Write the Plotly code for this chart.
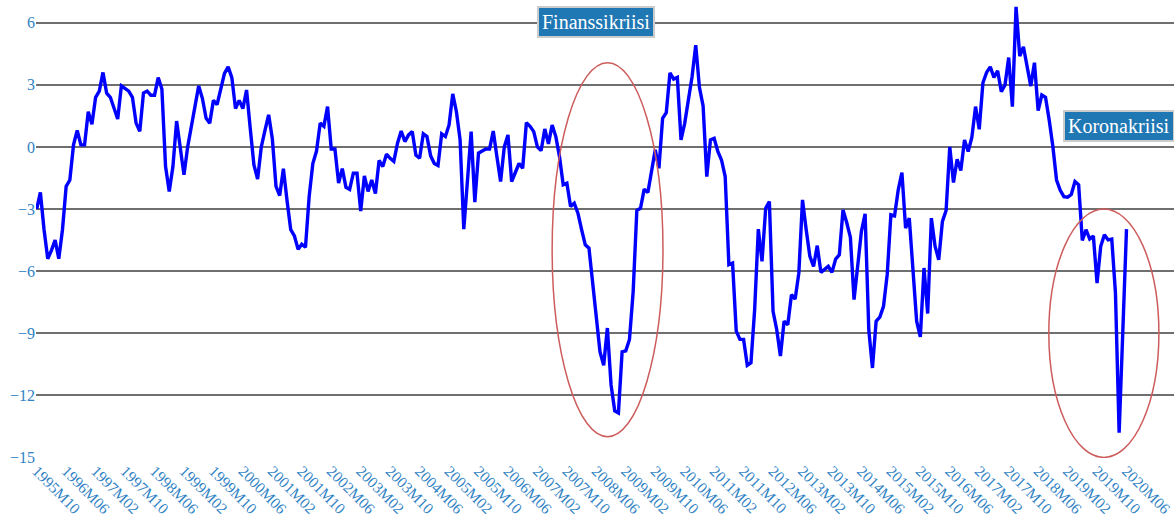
import plotly.graph_objects as go

# Kuluttajien luottamus, kuukausittain 1995M10 - 2020M06 (luettu kuvasta)
start_year, start_month = 1995, 10
values = [
    -3.0, -2.2, -4.0, -5.4, -5.0, -4.5, -5.4, -4.0, -1.9, -1.6,
    0.1, 0.8, 0.1, 0.1, 1.7, 1.1, 2.4, 2.7, 3.6, 2.6,
    2.4, 1.9, 1.35, 2.95, 2.8, 2.7, 2.4, 1.15, 0.75, 2.6,
    2.7, 2.5, 2.5, 3.35, 2.8, -0.95, -2.15, -0.95, 1.25, -0.05,
    -1.35, 0.0, 1.0, 1.95, 2.95, 2.35, 1.4, 1.15, 2.25, 2.05,
    2.75, 3.55, 3.87, 3.35, 1.85, 2.25, 1.85, 2.75, 0.9, -0.87,
    -1.55, 0.0, 0.8, 1.55, 0.4, -1.9, -2.35, -1.05, -2.6, -4.0,
    -4.3, -4.95, -4.7, -4.85, -2.4, -0.8, -0.2, 1.15, 1.0, 1.95,
    -0.1, -0.1, -1.75, -1.05, -1.95, -2.05, -1.27, -1.27, -3.1, -1.4,
    -2.15, -1.6, -2.25, -0.65, -0.95, -0.35, -0.55, -0.7, 0.18, 0.77,
    0.26, 0.58, 0.74, -0.4, -0.55, 0.63, 0.5, -0.43, -0.8, -0.9,
    0.63, 0.5, 1.06, 2.56, 1.7, 0.34, -3.97, -1.43, 0.74, -2.67,
    -0.3, -0.2, -0.1, -0.1, 0.77, -0.47, -1.67, 0.0, 0.58, -1.67,
    -1.2, -0.8, -1.03, 1.17, 1.0, 0.74, 0.0, -0.18, 0.87, 0.15,
    1.06, 0.5, -0.47, -1.83, -1.75, -2.88, -2.72, -3.2, -4.0, -4.73,
    -4.89, -6.5, -8.0, -9.9, -10.55, -8.75, -11.5, -12.75, -12.85, -9.9,
    -9.85, -9.3, -7.0, -3.07, -2.96, -2.04, -2.2, -1.27, -0.14, -1.03,
    1.38, 1.66, 3.58, 3.28, 3.36, 0.34, 1.14, 2.27, 3.39, 4.92,
    2.88, 1.98, -1.43, 0.34, 0.42, -0.22, -0.63, -1.43, -5.69, -5.61,
    -8.9, -9.3, -9.3, -10.55, -10.43, -7.86, -3.97, -5.53, -2.96, -2.64,
    -7.94, -8.83, -10.1, -8.42, -8.59, -7.14, -7.35, -6.1, -2.56, -4.0,
    -5.29, -5.77, -4.77, -6.06, -5.9, -5.77, -6.06, -5.42, -5.21, -3.04,
    -3.65, -4.36, -7.38, -5.61, -4.08, -3.23, -8.83, -10.68, -8.42, -8.22,
    -7.7, -6.17, -3.28, -3.33, -2.07, -1.24, -3.92, -3.44, -5.93, -8.42,
    -9.18, -5.85, -8.05, -3.44, -4.8, -5.45, -3.6, -3.07, 0.0, -1.72,
    -0.6, -1.14, 0.34, -0.22, 0.47, 1.95, 0.85, 3.1, 3.6, 3.87,
    3.36, 3.68, 2.67, 2.99, 4.32, 1.95, 6.77, 4.39, 4.84, 3.95,
    2.94, 4.07, 1.75, 2.51, 2.4, 1.3, 0.02, -1.6, -2.1, -2.4,
    -2.43, -2.3, -1.67, -1.83, -4.52, -4.0, -4.45, -4.3, -6.58, -4.8,
    -4.24, -4.49, -4.45, -7.06, -13.81, -8.9, -3.97,
]

months = []
for k in range(len(values)):
    m = start_month - 1 + k
    months.append(f"{start_year + m // 12}M{m % 12 + 1:02d}")

tick_labels = months[::8]
y_ticks = [6, 3, 0, -3, -6, -9, -12, -15]

FONT = "'Liberation Serif', 'Times New Roman', Times, serif"
TICK_BLUE = "#2f82c4"

fig = go.Figure()
fig.add_trace(
    go.Scatter(
        x=months,
        y=values,
        mode="lines",
        line=dict(color="#0000ff", width=3.4),
        showlegend=False,
    )
)

# Kriisien ympyrät (x kategorian järjestysnumerona)
fig.add_shape(type="circle", xref="x", yref="y", x0=140, x1=170.1, y0=-14.0, y1=4.07,
              line=dict(color="#cd5c5c", width=1.5))
fig.add_shape(type="circle", xref="x", yref="y", x0=274.9, x1=304.8, y0=-15.0, y1=-3.0,
              line=dict(color="#cd5c5c", width=1.5))

box = dict(font=dict(family=FONT, size=20, color="white"), bgcolor="#1f77b4",
           bordercolor="#cccccc", borderwidth=2, borderpad=3, showarrow=False,
           xref="paper", yref="paper")
fig.add_annotation(text="Finanssikriisi", x=0.4925, y=0.951, xanchor="center", yanchor="middle", **box)
fig.add_annotation(text="Koronakriisi", x=0.9025, y=0.724, xanchor="left", yanchor="middle", **box)

fig.update_xaxes(
    type="category",
    range=[-0.19, 308.9],
    tickvals=tick_labels,
    ticktext=tick_labels,
    tickangle=45,
    showgrid=False,
    showline=False,
    zeroline=False,
    tickfont=dict(family=FONT, size=15.5, color=TICK_BLUE),
)
fig.update_yaxes(
    range=[-15.03, 7.1],
    tickvals=y_ticks,
    showgrid=True,
    gridcolor="#6f6f6f",
    gridwidth=1.5,
    zeroline=False,
    showline=False,
    tickfont=dict(family=FONT, size=16, color=TICK_BLUE),
)
fig.update_layout(
    width=1174,
    height=522,
    margin=dict(l=36, r=0, t=0, b=64),
    paper_bgcolor="white",
    plot_bgcolor="white",
    font=dict(family=FONT),
)

fig.write_html("out.html", config={"displayModeBar": False},
               post_script="document.body.style.margin='0';")
